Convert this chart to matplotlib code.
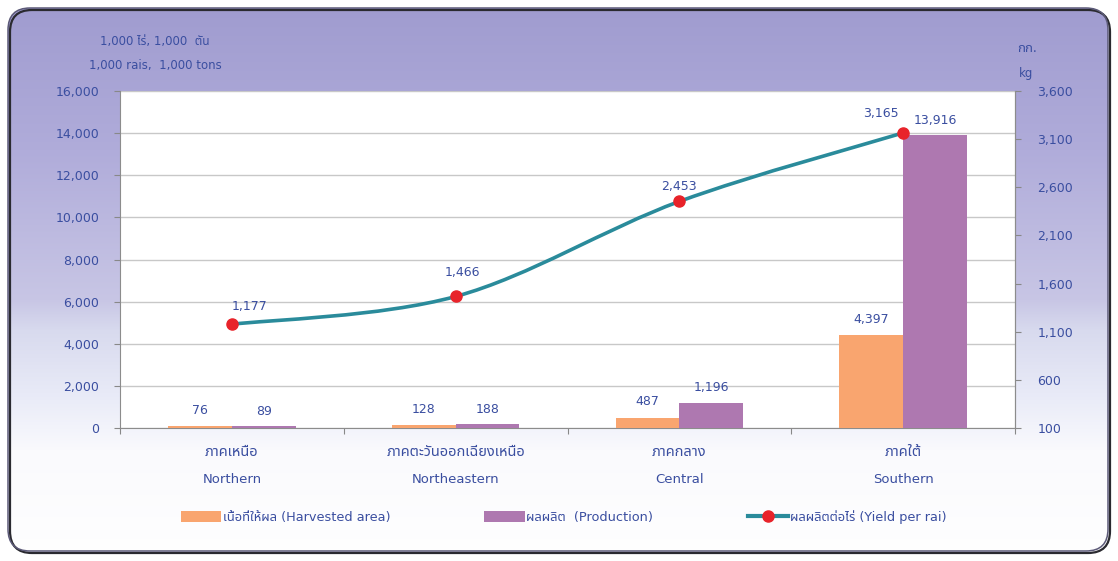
import numpy as np
import matplotlib
matplotlib.use("Agg")
import matplotlib.pyplot as plt
from matplotlib import font_manager
from matplotlib.patches import FancyBboxPatch, Patch, PathPatch
from matplotlib.path import Path
from matplotlib.lines import Line2D
from matplotlib.font_manager import FontProperties

# data
regions_th = ["ภาคเหนือ", "ภาคตะวันออกเฉียงเหนือ", "ภาคกลาง", "ภาคใต้"]
regions_en = ["Northern", "Northeastern", "Central", "Southern"]
harvested = [76, 128, 487, 4397]
production = [89, 188, 1196, 13916]
yield_per_rai = [1177, 1466, 2453, 3165]

left_ticks = [0, 2000, 4000, 6000, 8000, 10000, 12000, 14000, 16000]
right_ticks = [100, 600, 1100, 1600, 2100, 2600, 3100, 3600]

# pick a font that has Thai glyphs
names = {f.name for f in font_manager.fontManager.ttflist}
thai = next((n for n in ["Noto Sans Thai", "Noto Sans Thai UI", "Sarabun", "Anuphan",
                         "Prompt", "Kanit", "Athiti"] if n in names), "DejaVu Sans")
FAM = ["DejaVu Sans", thai]
FAM_TH = [thai, "DejaVu Sans"]
plt.rcParams["font.family"] = FAM

TXT = "#3a4ea0"
ORANGE = "#f9a56f"
PURPLE = "#ae78b0"
TEAL = "#2a8b9b"
RED = "#e8232a"

W, H = 1118, 561
fig = plt.figure(figsize=(W / 100, H / 100), dpi=100)
fig.patch.set_facecolor("white")

# background panel with vertical gradient
bg = fig.add_axes([0, 0, 1, 1], zorder=-5)
bg.set_xlim(0, W)
bg.set_ylim(H, 0)
bg.axis("off")
stops_y = [0, 150, 300, 330, 400, 450, 561]
stops_c = [(159, 155, 207), (176, 172, 218), (200, 198, 229), (216, 218, 238),
           (234, 236, 248), (250, 250, 253), (255, 255, 255)]
ys = np.arange(H)
grad = np.stack([np.interp(ys, stops_y, [c[k] for c in stops_c]) for k in range(3)], axis=-1) / 255
img = np.repeat(grad[:, None, :], 2, axis=1)
shadow = FancyBboxPatch((10, 10), W - 18, H - 18, boxstyle="round,pad=0,rounding_size=22",
                        facecolor="none", edgecolor="#2a2a30", linewidth=1.6)
bg.add_patch(shadow)
panel = FancyBboxPatch((8, 8), W - 18, H - 18, boxstyle="round,pad=0,rounding_size=22",
                       facecolor="none", edgecolor="#5c5a78", linewidth=1.1)
bg.add_patch(panel)
im = bg.imshow(img, extent=(0, W, H, 0), aspect="auto", interpolation="bilinear", zorder=-1)
im.set_clip_path(panel)

# main axes
ax = fig.add_axes([120 / W, 1 - 428 / H, (1015 - 120) / W, (428 - 91) / H])
ax.set_facecolor("white")
x = np.arange(len(regions_en))
bw = 0.285
ax.bar(x - bw / 2, harvested, bw, color=ORANGE, zorder=3)
ax.bar(x + bw / 2, production, bw, color=PURPLE, zorder=3)
ax.set_xlim(-0.5, len(regions_en) - 0.5)
ax.set_ylim(0, 16000)
ax.set_yticks(left_ticks)
ax.set_yticklabels([f"{v:,}" for v in left_ticks])
ax.set_xticks(np.arange(len(regions_en) + 1) - 0.5)
ax.set_xticklabels([])
ax.grid(axis="y", color="#c8c8c8", linewidth=1, zorder=0)
ax.tick_params(axis="y", colors="#888888", labelcolor=TXT, labelsize=9, length=4, pad=11)
ax.tick_params(axis="x", colors="#888888", length=4)
ax.spines["top"].set_visible(False)
for s in ["left", "right", "bottom"]:
    ax.spines[s].set_color("#8c8c8c")

for i in range(len(x)):
    ax.annotate(f"{harvested[i]:,}", (x[i] - bw / 2, harvested[i]), xytext=(0, 7),
                textcoords="offset points", ha="center", va="bottom", color=TXT, fontsize=9)
    ax.annotate(f"{production[i]:,}", (x[i] + bw / 2, production[i]), xytext=(0, 6),
                textcoords="offset points", ha="center", va="bottom", color=TXT, fontsize=9)
    ax.text(x[i], -0.074, regions_th[i], transform=ax.get_xaxis_transform(),
            ha="center", va="center", color=TXT, fontsize=10.5, family=FAM_TH)
    ax.text(x[i], -0.154, regions_en[i], transform=ax.get_xaxis_transform(),
            ha="center", va="center", color=TXT, fontsize=9.5)

# yield on secondary axis, smooth bezier through points
ax2 = ax.twinx()
ax2.set_ylim(100, 3600)
ax2.set_yticks(right_ticks)
ax2.set_yticklabels([f"{v:,}" for v in right_ticks])
ax2.tick_params(axis="y", colors="#888888", labelcolor=TXT, labelsize=9, length=4, pad=12)
ax2.spines["top"].set_visible(False)
ax2.spines["right"].set_color("#8c8c8c")
ax2.spines["left"].set_visible(False)
ax2.spines["bottom"].set_visible(False)

pts = np.column_stack([x, yield_per_rai]).astype(float)
ext = np.vstack([pts[0], pts, pts[-1]])
verts = [tuple(pts[0])]
codes = [Path.MOVETO]
for i in range(len(pts) - 1):
    p0, p1, p2, p3 = ext[i], ext[i + 1], ext[i + 2], ext[i + 3]
    c1 = p1 + (p2 - p0) / 6
    c2 = p2 - (p3 - p1) / 6
    verts += [tuple(c1), tuple(c2), tuple(p2)]
    codes += [Path.CURVE4] * 3
ax2.add_patch(PathPatch(Path(verts, codes), facecolor="none", edgecolor=TEAL,
                        linewidth=2.6, zorder=4))
ax2.plot(x, yield_per_rai, linestyle="none", marker="o", markersize=8,
         markerfacecolor=RED, markeredgecolor=RED, zorder=5)
line_offsets = [(13, 13), (5, 17), (0, 11), (-16, 14)]
for i in range(len(x)):
    ax2.annotate(f"{yield_per_rai[i]:,}", (x[i], yield_per_rai[i]), xytext=line_offsets[i],
                 textcoords="offset points", ha="center", va="center", color=TXT, fontsize=9)

# unit labels
fig.text(155 / W, 1 - 42 / H, "1,000 ไร่, 1,000  ตัน", ha="center", va="center", color=TXT, fontsize=8.5)
fig.text(155 / W, 1 - 65 / H, "1,000 rais,  1,000 tons", ha="center", va="center", color=TXT, fontsize=8.5)
fig.text(1027 / W, 1 - 48 / H, "กก.", ha="center", va="center", color=TXT, fontsize=9.5, family=FAM_TH)
fig.text(1026 / W, 1 - 73 / H, "kg", ha="center", va="center", color=TXT, fontsize=8.5)

# legend
handles = [Patch(facecolor=ORANGE), Patch(facecolor=PURPLE),
           Line2D([], [], color=TEAL, linewidth=3, marker="o", markersize=8,
                  markerfacecolor=RED, markeredgecolor=RED)]
labels = ["เนื้อที่ให้ผล (Harvested area)", "ผลผลิต  (Production)", "ผลผลิตต่อไร่ (Yield per rai)"]
fig.legend(handles, labels, loc="center", bbox_to_anchor=(0.504, 1 - 517 / H), ncol=3,
           frameon=False, prop=FontProperties(family=FAM, size=9.3), labelcolor=TXT,
           handlelength=3.1, handleheight=1.0, handletextpad=0.15, columnspacing=7.3)

fig.savefig("out.png", dpi=100)
